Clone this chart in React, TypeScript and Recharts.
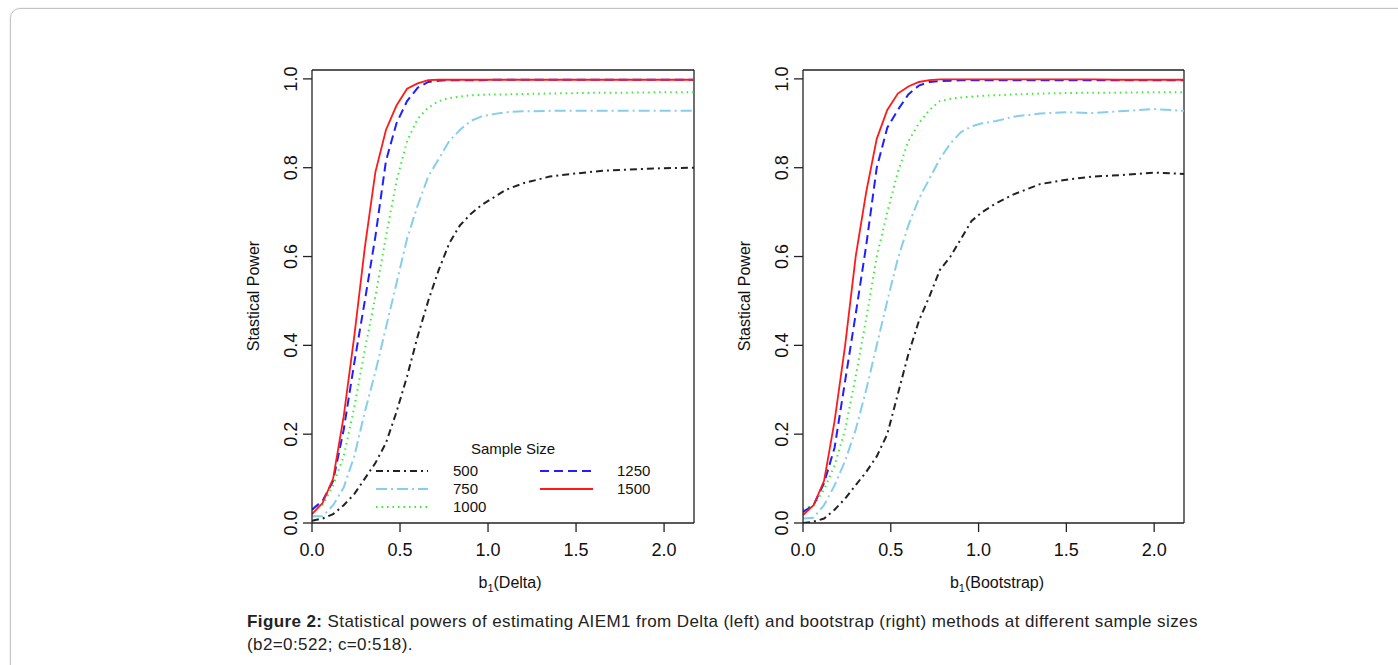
import React from "react";
import { LineChart, Line, XAxis, YAxis, ReferenceLine } from "recharts";

// b1 grid shared by every curve
const xs = [0, 0.06, 0.12, 0.18, 0.24, 0.3, 0.36, 0.42, 0.48, 0.54, 0.6, 0.66, 0.72, 0.78, 0.84, 0.9, 0.96, 1.02, 1.1, 1.2, 1.35, 1.5, 1.65, 1.8, 2.0, 2.17];

// Delta method (left)
const delta500 = [0.005, 0.01, 0.02, 0.04, 0.065, 0.1, 0.135, 0.18, 0.25, 0.33, 0.42, 0.5, 0.57, 0.63, 0.67, 0.695, 0.715, 0.73, 0.75, 0.765, 0.78, 0.787, 0.793, 0.796, 0.799, 0.8];
const delta750 = [0.015, 0.015, 0.04, 0.08, 0.15, 0.25, 0.34, 0.44, 0.54, 0.64, 0.715, 0.78, 0.82, 0.86, 0.885, 0.905, 0.915, 0.92, 0.925, 0.927, 0.928, 0.928, 0.928, 0.928, 0.928, 0.928];
const delta1000 = [0.03, 0.04, 0.085, 0.15, 0.26, 0.39, 0.51, 0.645, 0.77, 0.86, 0.91, 0.935, 0.95, 0.957, 0.96, 0.963, 0.964, 0.965, 0.965, 0.966, 0.967, 0.968, 0.969, 0.969, 0.97, 0.97];
const delta1250 = [0.03, 0.05, 0.095, 0.21, 0.36, 0.5, 0.645, 0.815, 0.9, 0.95, 0.98, 0.993, 0.996, 0.997, 0.997, 0.997, 0.997, 0.998, 0.998, 0.998, 0.998, 0.998, 0.998, 0.998, 0.998, 0.998];
const delta1500 = [0.02, 0.045, 0.1, 0.24, 0.42, 0.62, 0.79, 0.885, 0.94, 0.978, 0.99, 0.997, 0.998, 0.998, 0.998, 0.998, 0.998, 0.998, 0.998, 0.998, 0.998, 0.998, 0.998, 0.998, 0.998, 0.998];

// Bootstrap (right)
const boot500 = [0.0, 0.003, 0.01, 0.03, 0.055, 0.085, 0.115, 0.15, 0.2, 0.29, 0.38, 0.455, 0.51, 0.57, 0.6, 0.64, 0.68, 0.7, 0.72, 0.74, 0.763, 0.773, 0.78, 0.783, 0.789, 0.786];
const boot750 = [0.01, 0.012, 0.04, 0.085, 0.14, 0.21, 0.3, 0.4, 0.5, 0.595, 0.67, 0.73, 0.775, 0.82, 0.855, 0.88, 0.893, 0.9, 0.905, 0.915, 0.922, 0.925, 0.923, 0.927, 0.932, 0.928];
const boot1000 = [0.03, 0.04, 0.075, 0.13, 0.21, 0.33, 0.46, 0.6, 0.7, 0.79, 0.86, 0.9, 0.93, 0.95, 0.955, 0.958, 0.96, 0.962, 0.963, 0.965, 0.967, 0.968, 0.969, 0.969, 0.97, 0.97];
const boot1250 = [0.025, 0.04, 0.09, 0.17, 0.32, 0.47, 0.625, 0.8, 0.89, 0.93, 0.965, 0.985, 0.993, 0.995, 0.996, 0.997, 0.997, 0.997, 0.997, 0.997, 0.997, 0.997, 0.997, 0.997, 0.997, 0.997];
const boot1500 = [0.018, 0.04, 0.095, 0.23, 0.4, 0.6, 0.745, 0.865, 0.93, 0.967, 0.983, 0.993, 0.997, 0.999, 0.999, 0.999, 0.999, 0.999, 0.999, 0.999, 0.999, 0.999, 0.999, 0.998, 0.998, 0.998];

const xTicks = [0, 0.5, 1, 1.5, 2];
const yTicks = [0, 0.2, 0.4, 0.6, 0.8, 1.0];

const FONT = "'Liberation Sans', Arial, Helvetica, sans-serif";

const series = [
  { key: "n500", label: "500", color: "#222222", dash: "7 4 2 4", width: 2 },
  { key: "n750", label: "750", color: "#87CEEB", dash: "11 4 2 4", width: 2 },
  { key: "n1000", label: "1000", color: "#33ee33", dash: "1.5 4", width: 2 },
  { key: "n1250", label: "1250", color: "#2020ff", dash: "9 5", width: 2 },
  { key: "n1500", label: "1500", color: "#ff1a1a", dash: undefined, width: 1.8 },
];

function buildRows(v500: number[], v750: number[], v1000: number[], v1250: number[], v1500: number[]) {
  return xs.map((x, i) => ({
    x,
    n500: v500[i],
    n750: v750[i],
    n1000: v1000[i],
    n1250: v1250[i],
    n1500: v1500[i],
  }));
}

const XTick = (props: any) => {
  const { x, y, payload } = props;
  return (
    <text x={x} y={y + 22} textAnchor="middle" fontSize={18} fontFamily={FONT} fill="#111">
      {Number(payload.value).toFixed(1)}
    </text>
  );
};

const YTick = (props: any) => {
  const { x, y, payload } = props;
  return (
    <text transform={`translate(${x - 4},${y}) rotate(-90)`} textAnchor="middle" fontSize={18} fontFamily={FONT} fill="#111">
      {Number(payload.value).toFixed(1)}
    </text>
  );
};

const CHART_TOP = 60;

function Panel({ left, width, rows, method, titleX }: { left: number; width: number; rows: any[]; method: string; titleX: number }) {
  return (
    <div style={{ position: "absolute", left, top: CHART_TOP }}>
      <LineChart width={width} height={560} data={rows} margin={{ top: 10, right: 16, bottom: 17, left: 0 }}>
        <XAxis
          dataKey="x"
          type="number"
          domain={[0, 2.17]}
          ticks={xTicks}
          allowDataOverflow
          tick={<XTick />}
          tickSize={9}
          height={80}
          stroke="#222"
          strokeWidth={1.3}
          label={{
            content: () => (
              <text x={titleX - left} y={588 - CHART_TOP} textAnchor="middle" fontSize={16} fontFamily={FONT} fill="#111">
                <tspan>b</tspan>
                <tspan fontSize={11} dy={4}>1</tspan>
                <tspan dy={-4}>({method})</tspan>
              </text>
            ),
          }}
        />
        <YAxis
          type="number"
          domain={[0, 1.02]}
          ticks={yTicks}
          allowDataOverflow
          tick={<YTick />}
          tickSize={9}
          width={82}
          stroke="#222"
          strokeWidth={1.3}
          label={{
            content: () => (
              <text transform={`translate(${259 - 230},${296 - CHART_TOP}) rotate(-90)`} textAnchor="middle" fontSize={16} fontFamily={FONT} fill="#111">
                Stastical Power
              </text>
            ),
          }}
        />
        <ReferenceLine y={1.02} stroke="#222" strokeWidth={1.3} />
        <ReferenceLine x={2.17} stroke="#222" strokeWidth={1.3} />
        {series.map((s) => (
          <Line
            key={s.key}
            dataKey={s.key}
            type="linear"
            stroke={s.color}
            strokeWidth={s.width}
            strokeDasharray={s.dash}
            dot={false}
            isAnimationActive={false}
          />
        ))}
      </LineChart>
    </div>
  );
}

function SampleLegend() {
  // legend box drawn inside the left panel, positions in page pixels
  const col1 = series.slice(0, 3);
  const col2 = series.slice(3);
  const rowY = [471, 489, 507];
  return (
    <svg style={{ position: "absolute", left: 0, top: 0, pointerEvents: "none" }} width={1398} height={665}>
      <text x={513} y={454} textAnchor="middle" fontSize={15} fontFamily={FONT} fill="#111">
        Sample Size
      </text>
      {col1.map((s, i) => (
        <g key={s.key}>
          <line x1={376} x2={428} y1={rowY[i]} y2={rowY[i]} stroke={s.color} strokeWidth={s.width} strokeDasharray={s.dash} />
          <text x={453} y={rowY[i] + 5} fontSize={15} fontFamily={FONT} fill="#111">{s.label}</text>
        </g>
      ))}
      {col2.map((s, i) => (
        <g key={s.key}>
          <line x1={540} x2={593} y1={rowY[i]} y2={rowY[i]} stroke={s.color} strokeWidth={s.width} strokeDasharray={s.dash} />
          <text x={617} y={rowY[i] + 5} fontSize={15} fontFamily={FONT} fill="#111">{s.label}</text>
        </g>
      ))}
    </svg>
  );
}

export default function App() {
  const deltaRows = buildRows(delta500, delta750, delta1000, delta1250, delta1500);
  const bootRows = buildRows(boot500, boot750, boot1000, boot1250, boot1500);
  return (
    <div style={{ position: "absolute", left: 0, top: 0, width: 1398, height: 665, overflow: "hidden", background: "#fff", fontFamily: FONT }}>
      <div style={{ position: "absolute", left: 10, top: 8, width: 1420, height: 720, border: "1px solid #c4c4c4", borderRadius: 10, boxShadow: "0 0 2px rgba(0,0,0,0.15)" }} />
      <Panel left={230} width={480} rows={deltaRows} method="Delta" titleX={510} />
      <Panel left={721} width={479} rows={bootRows} method="Bootstrap" titleX={997} />
      <SampleLegend />
      <div style={{ position: "absolute", left: 247, top: 610, fontSize: 17, letterSpacing: "0.4px", lineHeight: "23px", color: "#222", whiteSpace: "nowrap" }}>
        <b>Figure 2:</b> Statistical powers of estimating AIEM1 from Delta (left) and bootstrap (right) methods at different sample sizes
        <br />
        (b2=0:522; c=0:518).
      </div>
    </div>
  );
}
